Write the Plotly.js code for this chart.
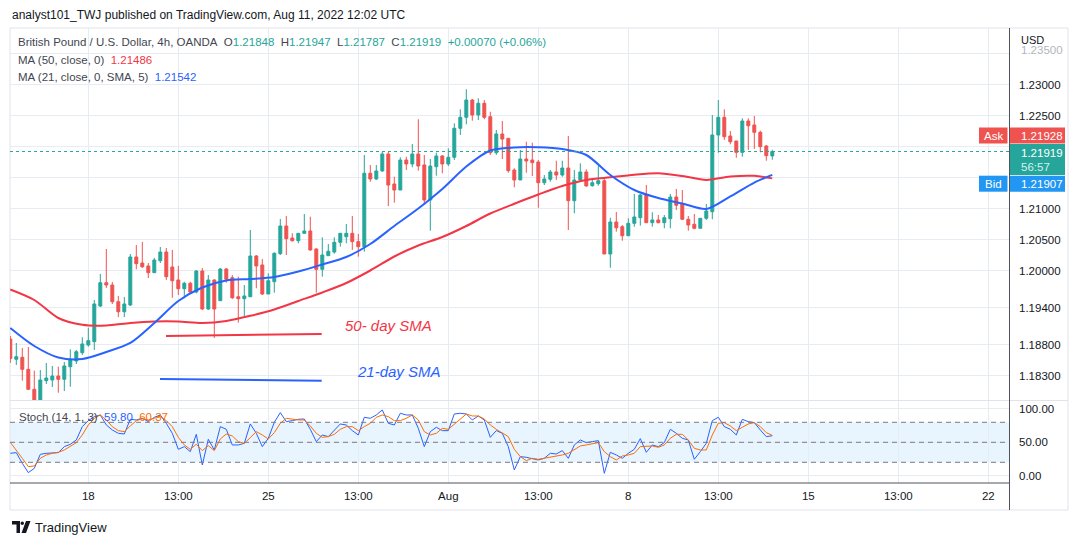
<!DOCTYPE html>
<html><head><meta charset="utf-8">
<script src="https://cdn.plot.ly/plotly-3.0.1.min.js"></script>
<style>html,body{margin:0;padding:0;background:#fff;}#chart{width:1079px;height:545px;}</style>
</head><body><div id="chart"></div>
<script>
// ---- Data (GBP/USD 4h, OANDA) ----
const openP = [1.18895,1.18568,1.18600,1.18406,1.18084,1.17879,1.18223,1.18234,1.18298,1.18245,1.18448,1.18540,1.18674,1.18798,1.18852,1.19427,1.19803,1.19766,1.19497,1.19335,1.19444,1.20218,1.20121,1.20073,1.19965,1.20158,1.20298,1.20056,1.19847,1.19706,1.19794,1.19653,1.19992,1.19379,1.19847,1.19513,1.20024,1.19884,1.19577,1.19545,1.19577,1.20234,1.20089,1.19621,1.19819,1.20271,1.20718,1.20524,1.20481,1.20600,1.20637,1.20347,1.20019,1.20239,1.20298,1.20455,1.20545,1.20600,1.20465,1.20384,1.21568,1.21476,1.21605,1.21879,1.21395,1.21298,1.21782,1.21718,1.21879,1.21702,1.21137,1.21674,1.21847,1.21718,1.21826,1.22294,1.22471,1.22750,1.22508,1.22697,1.22481,1.21900,1.22202,1.22132,1.21621,1.21460,1.21798,1.21782,1.21750,1.21416,1.21471,1.21589,1.21540,1.21653,1.21126,1.21460,1.21589,1.21368,1.21400,1.21448,1.20266,1.20782,1.20706,1.20561,1.20761,1.20852,1.21218,1.20771,1.20815,1.20771,1.20835,1.21185,1.21073,1.20826,1.20745,1.20681,1.20842,1.20948,1.22185,1.22471,1.22169,1.22089,1.21906,1.22411,1.22347,1.22229,1.22008,1.21848];
const highP = [1.18944,1.18831,1.18750,1.18766,1.18384,1.18395,1.18508,1.18460,1.18448,1.18524,1.18729,1.18718,1.18923,1.19077,1.19524,1.19944,1.20347,1.19815,1.19589,1.19573,1.20266,1.20411,1.20460,1.20121,1.20202,1.20379,1.20363,1.20331,1.20073,1.19819,1.19819,1.20008,1.20040,1.19927,1.19858,1.20040,1.20040,1.19927,1.19900,1.19766,1.20653,1.20250,1.20185,1.19955,1.20294,1.20831,1.20879,1.20600,1.20600,1.20911,1.20868,1.20358,1.20535,1.20427,1.20535,1.20600,1.20750,1.20879,1.20589,1.21863,1.21702,1.21702,1.21911,1.21911,1.21513,1.21826,1.21835,1.22040,1.22439,1.21863,1.21798,1.21900,1.21863,1.21971,1.22374,1.22600,1.22923,1.22766,1.22777,1.22750,1.22561,1.22266,1.22411,1.22132,1.21648,1.21944,1.22077,1.22061,1.21782,1.21540,1.21621,1.21771,1.21771,1.22169,1.21621,1.21729,1.21632,1.21487,1.21685,1.21492,1.20852,1.20944,1.20734,1.20842,1.21234,1.21234,1.21379,1.20939,1.20895,1.20895,1.21234,1.21315,1.21298,1.20879,1.20911,1.20842,1.21073,1.22508,1.22750,1.22600,1.22250,1.22089,1.22455,1.22455,1.22492,1.22255,1.22024,1.21947];
const lowP = [1.18508,1.18476,1.18223,1.18073,1.17860,1.17860,1.18169,1.18121,1.18029,1.18056,1.18126,1.18492,1.18637,1.18771,1.18718,1.19411,1.19718,1.19460,1.19250,1.19250,1.19427,1.20019,1.20040,1.19879,1.19960,1.20121,1.19847,1.19561,1.19605,1.19552,1.19632,1.19632,1.19363,1.19363,1.18911,1.19508,1.19803,1.19540,1.19158,1.19266,1.19573,1.19713,1.19605,1.19621,1.19642,1.20250,1.20250,1.20465,1.20439,1.20600,1.20319,1.19642,1.19900,1.20234,1.20271,1.20384,1.20439,1.20331,1.20223,1.20303,1.21432,1.21460,1.21594,1.21040,1.21094,1.21298,1.21621,1.21665,1.21610,1.21056,1.20642,1.21529,1.21568,1.21685,1.21782,1.22185,1.22358,1.22416,1.22427,1.22439,1.21863,1.21863,1.21798,1.21577,1.21342,1.21460,1.21577,1.21524,1.21013,1.21379,1.21432,1.21460,1.21513,1.20653,1.20923,1.21432,1.21352,1.21352,1.21368,1.20266,1.20045,1.20626,1.20481,1.20561,1.20706,1.20723,1.20771,1.20706,1.20761,1.20681,1.20681,1.20976,1.20815,1.20642,1.20665,1.20681,1.20815,1.20826,1.21900,1.22105,1.22035,1.21819,1.21835,1.21944,1.21960,1.21906,1.21771,1.21787];
const closeP = [1.18581,1.18610,1.18406,1.18084,1.17879,1.18234,1.18266,1.18298,1.18245,1.18460,1.18556,1.18690,1.18815,1.18868,1.19460,1.19803,1.19766,1.19497,1.19335,1.19460,1.20218,1.20110,1.20061,1.19965,1.20169,1.20298,1.19900,1.19835,1.19706,1.19794,1.19653,1.19992,1.19379,1.19847,1.19379,1.20024,1.19858,1.19561,1.19545,1.19589,1.20234,1.20073,1.19621,1.19835,1.20277,1.20718,1.20513,1.20481,1.20600,1.20637,1.20331,1.20019,1.20250,1.20310,1.20455,1.20600,1.20600,1.20465,1.20384,1.21568,1.21476,1.21605,1.21879,1.21379,1.21298,1.21782,1.21718,1.21879,1.21685,1.21137,1.21685,1.21847,1.21718,1.21826,1.22294,1.22471,1.22750,1.22508,1.22697,1.22471,1.21900,1.22202,1.22121,1.21610,1.21460,1.21798,1.21766,1.21739,1.21416,1.21476,1.21589,1.21540,1.21653,1.21126,1.21460,1.21589,1.21363,1.21416,1.21448,1.20266,1.20782,1.20690,1.20561,1.20761,1.20863,1.21218,1.20771,1.20815,1.20771,1.20852,1.21185,1.21052,1.20826,1.20734,1.20681,1.20842,1.20960,1.22185,1.22471,1.22158,1.22077,1.21906,1.22411,1.22335,1.22229,1.21997,1.21852,1.21919];

// Moving averages read at every 4th bar
const maIdx = [0,4,8,12,16,20,24,28,32,36,40,44,48,52,56,60,64,68,72,76,80,84,88,92,96,100,104,108,112,116,120,124,127];
const ma50 = [1.19694,1.19524,1.19234,1.19124,1.19113,1.19153,1.19177,1.19177,1.19153,1.19185,1.19269,1.19371,1.19508,1.19645,1.19798,1.20000,1.20226,1.20403,1.20540,1.20718,1.20919,1.21077,1.21226,1.21363,1.21460,1.21503,1.21545,1.21568,1.21524,1.21460,1.21516,1.21527,1.21486];
const ma21 = [1.19073,1.18782,1.18597,1.18573,1.18685,1.18831,1.19153,1.19508,1.19726,1.19839,1.19863,1.19895,1.19984,1.20097,1.20218,1.20427,1.20718,1.21000,1.21315,1.21677,1.21935,1.21984,1.21987,1.21960,1.21863,1.21540,1.21298,1.21169,1.21081,1.20992,1.21194,1.21419,1.21542];

// Stochastic (14,1,3)
const stochK = [33.5,34.5,18.5,4.5,11,32,33.5,34.5,34.5,43.5,47,53.5,73.5,82.5,88.5,91,76,68.5,63.5,62.5,84.5,83.5,86,81,87.5,91,78.5,63.5,39.5,43.5,36,62,16,54.5,38.5,73.5,69.5,46,46,48.5,77.5,63.5,43.5,56,80,94.5,81,82.5,84.5,85,69.5,51,61,58.5,67.5,77.5,76,67.5,61,87.5,86,91,98.5,78.5,76,93.5,91,91,71,43.5,66,72.5,67.5,67.5,92.5,93.5,92.5,83.5,89.5,83.5,57.5,67.5,63.5,43.5,8.5,28.5,27.5,26,23.5,26,33.5,32.5,37.5,26,46,53.5,49.5,51,52.5,3.5,35,31,26,33.5,39.5,55.5,35,46,43.5,49.5,69.5,63.5,56,53.5,24.5,36,48.5,82.5,87.5,73.5,69.5,61,84.5,81,79.5,68.5,58.5,59.8];
const stochD = [50,38.5,26,13.5,14.5,26,31,33.5,35,38.5,43.5,49.5,61,76,86,91,83.5,73.5,67.5,66,74.5,82.5,85,83.5,86,88.5,82.5,73.5,57.5,46,39.5,47,37.5,45,37.5,55,62.5,59.5,51,48.5,57,66,61,55,64.5,78.5,86,84.5,83.5,83.5,74.5,63.5,57.5,58.5,62,69.5,73.5,73.5,67.5,73.5,78.5,87.5,91,88.5,82.5,82.5,86,91,83.5,66,61,63.5,71,69.5,77.5,86,92.5,89.5,89.5,85,76,69.5,64.5,58.5,39.5,28.5,22.5,26,24.5,26,27.5,28.5,31,33.5,38.5,44.5,46,47.5,49.5,36,28.5,23.5,29.5,31,33.5,43.5,43.5,44.5,42.5,46,56,62,62,53.5,41,38.5,38.5,61,78.5,79.5,74.5,67.5,72.5,77.5,79.5,73.5,64.5,60.37];

// Drawn trend lines (bar index, price)
const line50x = [25.95, 51.9], line50y = [1.18944, 1.18976];
const line21x = [24.95, 51.9], line21y = [1.18250, 1.18223];

// Axis ticks
const tickIdx = [13,28,43,58,73,88,103,118,133,148,163];
const tickText = ['18','13:00','25','13:00','Aug','13:00','8','13:00','15','13:00','22'];
const priceTicks = [1.183,1.188,1.194,1.200,1.205,1.210,1.215,1.220,1.225,1.230,1.235];
const priceTickText = ['1.18300','1.18800','1.19400','1.20000','1.20500','1.21000','','','1.22500','1.23000',''];

const askP = 1.21928, bidP = 1.21907, lastP = 1.21919, ma50Last = 1.21486, ma21Last = 1.21542;

const barIdx = closeP.map((_, i) => i);

// ---- Drawing ----
const GREEN = '#26a69a', RED = '#ef5350', BLUE = '#2962ff', ORANGE = '#ff6d00', MARED = '#f23645';
const PX = x => (x - 10) / 999;   // pixel -> paper (for page decorations only)
const PY = y => (483 - y) / 455;

const traces = [
  {type:'candlestick', x:barIdx, open:openP, high:highP, low:lowP, close:closeP, xaxis:'x', yaxis:'y',
   increasing:{line:{color:GREEN,width:1}, fillcolor:GREEN},
   decreasing:{line:{color:RED,width:1}, fillcolor:RED}, whiskerwidth:0, hoverinfo:'skip'},
  {type:'scatter', mode:'lines', x:maIdx, y:ma50, line:{color:MARED,width:2,shape:'spline',smoothing:0.8}, xaxis:'x', yaxis:'y', hoverinfo:'skip'},
  {type:'scatter', mode:'lines', x:maIdx, y:ma21, line:{color:BLUE,width:2,shape:'spline',smoothing:0.8}, xaxis:'x', yaxis:'y', hoverinfo:'skip'},
  {type:'scatter', mode:'lines', x:line50x, y:line50y, line:{color:MARED,width:2}, xaxis:'x', yaxis:'y', hoverinfo:'skip'},
  {type:'scatter', mode:'lines', x:line21x, y:line21y, line:{color:BLUE,width:2}, xaxis:'x', yaxis:'y', hoverinfo:'skip'},
  {type:'scatter', mode:'lines', x:barIdx, y:stochK, line:{color:BLUE,width:1}, xaxis:'x', yaxis:'y2', hoverinfo:'skip'},
  {type:'scatter', mode:'lines', x:barIdx, y:stochD, line:{color:ORANGE,width:1}, xaxis:'x', yaxis:'y2', hoverinfo:'skip'}
];

const FONT = 'Liberation Sans, Arial, sans-serif';
const sp = '\u00A0';

const shapes = [
  // stochastic band and levels
  {type:'rect', xref:'paper', x0:0, x1:1, yref:'y2', y0:20, y1:80, fillcolor:'rgba(33,150,243,0.10)', line:{width:0}, layer:'below'},
  {type:'line', xref:'paper', x0:0, x1:1, yref:'y2', y0:80, y1:80, line:{color:'#787b86',width:1,dash:'5px,4px'}},
  {type:'line', xref:'paper', x0:0, x1:1, yref:'y2', y0:50, y1:50, line:{color:'#787b86',width:1,dash:'5px,4px'}},
  {type:'line', xref:'paper', x0:0, x1:1, yref:'y2', y0:20, y1:20, line:{color:'#787b86',width:1,dash:'5px,4px'}},
  // last price dotted line
  {type:'line', xref:'paper', x0:0, x1:1, yref:'y', y0:lastP, y1:lastP, line:{color:GREEN,width:1,dash:'dot'}},
  // frame
  {type:'rect', xref:'paper', yref:'paper', x0:PX(10), x1:PX(1068), y0:PY(510), y1:PY(28), line:{color:'#e0e3eb',width:1}, layer:'below'},
  {type:'line', xref:'paper', yref:'paper', x0:PX(10), x1:PX(1068), y0:PY(400.5), y1:PY(400.5), line:{color:'#e0e3eb',width:1}},
  {type:'line', xref:'paper', yref:'paper', x0:PX(1009.5), x1:PX(1009.5), y0:PY(510), y1:PY(28), line:{color:'#50535e',width:1}},
  {type:'line', xref:'paper', yref:'paper', x0:PX(10), x1:PX(1009.5), y0:PY(483), y1:PY(483), line:{color:'#50535e',width:1}},
  // price labels
  {type:'rect', xref:'paper', yref:'paper', x0:PX(979), x1:PX(1007.5), y0:PY(143.5), y1:PY(127.5), fillcolor:RED, line:{width:0}, layer:'above'},
  {type:'rect', xref:'paper', yref:'paper', x0:PX(1010), x1:PX(1065), y0:PY(143.5), y1:PY(127.5), fillcolor:RED, line:{width:0}, layer:'above'},
  {type:'rect', xref:'paper', yref:'paper', x0:PX(1010), x1:PX(1065), y0:PY(175), y1:PY(144), fillcolor:GREEN, line:{width:0}, layer:'above'},
  {type:'rect', xref:'paper', yref:'paper', x0:PX(979), x1:PX(1007.5), y0:PY(191.7), y1:PY(175.7), fillcolor:'#2196f3', line:{width:0}, layer:'above'},
  {type:'rect', xref:'paper', yref:'paper', x0:PX(1010), x1:PX(1065), y0:PY(191.7), y1:PY(175.7), fillcolor:'#2196f3', line:{width:0}, layer:'above'},
  // TradingView logo
  {type:'path', xref:'paper', yref:'paper', path:`M ${PX(12)} ${PY(521)} L ${PX(20)} ${PY(521)} L ${PX(20)} ${PY(533)} L ${PX(16.5)} ${PY(533)} L ${PX(16.5)} ${PY(524.5)} L ${PX(12)} ${PY(524.5)} Z`, fillcolor:'#131722', line:{width:0}},
  {type:'circle', xref:'paper', yref:'paper', x0:PX(20.5), x1:PX(24), y0:PY(525), y1:PY(521.5), fillcolor:'#131722', line:{width:0}},
  {type:'path', xref:'paper', yref:'paper', path:`M ${PX(26)} ${PY(521)} L ${PX(30.5)} ${PY(521)} L ${PX(26)} ${PY(533)} L ${PX(21.5)} ${PY(533)} Z`, fillcolor:'#131722', line:{width:0}}
];

const ann = (x, y, text, opts) => Object.assign({xref:'paper', yref:'paper', x:PX(x), y:PY(y), text:text, showarrow:false, xanchor:'left', yanchor:'middle', font:{family:FONT, size:11.5, color:'#131722'}}, opts || {});

const annotations = [
  ann(10, 15, 'analyst101_TWJ published on TradingView.com, Aug 11, 2022 12:02 UTC', {font:{family:FONT,size:12,color:'#131722'}}),
  ann(16, 42, 'British Pound / U.S. Dollar, 4h, OANDA' + sp+sp + 'O<span style="color:#26a69a">' + openP[127].toFixed(5) + '</span>' + sp+sp + 'H<span style="color:#26a69a">' + highP[127].toFixed(5) + '</span>' + sp+sp + 'L<span style="color:#26a69a">' + lowP[127].toFixed(5) + '</span>' + sp+sp + 'C<span style="color:#26a69a">' + closeP[127].toFixed(5) + '</span>' + sp+sp + '<span style="color:#26a69a">+0.00070 (+0.06%)</span>', {font:{family:FONT,size:11.5,color:'#434651'}}),
  ann(16, 60, 'MA (50, close, 0)' + sp+sp + '<span style="color:' + MARED + '">' + ma50Last.toFixed(5) + '</span>', {font:{family:FONT,size:11.5,color:'#434651'}}),
  ann(16, 77.5, 'MA (21, close, 0, SMA, 5)' + sp+sp + '<span style="color:' + BLUE + '">' + ma21Last.toFixed(5) + '</span>', {font:{family:FONT,size:11.5,color:'#434651'}}),
  ann(17, 417, 'Stoch (14, 1, 3)' + sp+sp + '<span style="color:' + BLUE + '">' + stochK[127].toFixed(2) + '</span>' + sp+sp + '<span style="color:' + ORANGE + '">' + stochD[127].toFixed(2) + '</span>', {font:{family:FONT,size:11.5,color:'#434651'}}),
  ann(1019, 40, 'USD', {font:{family:FONT,size:11,color:'#131722'}}),
  ann(1019, 50, '1.23500', {font:{family:FONT,size:11.5,color:'#b2b5be'}}),
  ann(993.2, 135.5, 'Ask', {xanchor:'center', font:{family:FONT,size:11.5,color:'#ffffff'}}),
  ann(1019, 135.5, askP.toFixed(5), {font:{family:FONT,size:11.5,color:'#ffffff'}}),
  ann(1019, 152.5, lastP.toFixed(5), {font:{family:FONT,size:11.5,color:'#ffffff'}}),
  ann(1019, 166.5, '56:57', {font:{family:FONT,size:11.5,color:'#d4efec'}}),
  ann(993.2, 183.7, 'Bid', {xanchor:'center', font:{family:FONT,size:11.5,color:'#ffffff'}}),
  ann(1019, 183.7, bidP.toFixed(5), {font:{family:FONT,size:11.5,color:'#ffffff'}}),
  ann(33, 527, 'TradingView', {font:{family:FONT,size:13,color:'#131722'}}),
  {xref:'x', yref:'y', x:63.1, y:1.19121, text:'<i>50- day SMA</i>', showarrow:false, font:{family:FONT,size:15,color:MARED}},
  {xref:'x', yref:'y', x:64.8, y:1.18379, text:'<i>21-day SMA</i>', showarrow:false, font:{family:FONT,size:15,color:BLUE}}
];

const GRID = '#e6ecf2';
const layout = {
  width:1079, height:545,
  margin:{l:10, r:70, t:28, b:62},
  paper_bgcolor:'#ffffff', plot_bgcolor:'#ffffff',
  showlegend:false,
  font:{family:FONT, size:11.5, color:'#131722'},
  xaxis:{range:[-0.05,166.45], tickmode:'array', tickvals:tickIdx, ticktext:tickText, showgrid:true, gridcolor:GRID, zeroline:false, showline:false, ticks:'', anchor:'y2', rangeslider:{visible:false}, ticklabelstandoff:4, fixedrange:true},
  yaxis:{domain:[0.18242,1], range:[1.179113,1.239113], side:'right', tickmode:'array', tickvals:priceTicks, ticktext:priceTickText, showgrid:true, gridcolor:GRID, zeroline:false, showline:false, ticks:'', ticklabelstandoff:9, anchor:'x', fixedrange:true},
  yaxis2:{domain:[0,0.18242], range:[-11.05,113.45], side:'right', tickmode:'array', tickvals:[0,50,100], ticktext:['0.00','50.00','100.00'], showgrid:true, gridcolor:GRID, zeroline:false, showline:false, ticks:'', ticklabelstandoff:9, anchor:'x', fixedrange:true},
  shapes:shapes,
  annotations:annotations
};

Plotly.newPlot('chart', traces, layout, {displayModeBar:false, staticPlot:true});
</script>
</body></html>
